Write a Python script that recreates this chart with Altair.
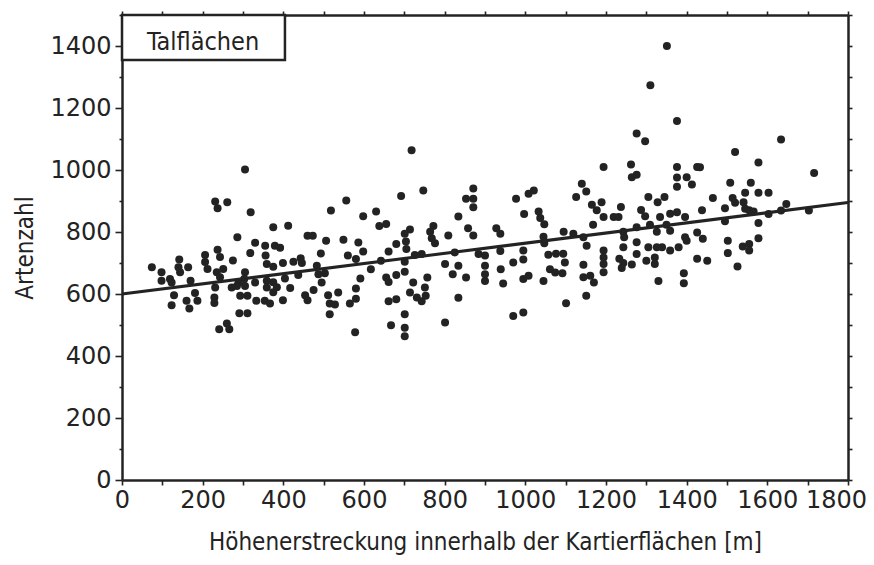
import altair as alt
import pandas as pd

# Scatter points
x_vals = [
    74, 98, 98, 119, 123, 123, 129, 142, 140, 144, 164, 170, 160, 167, 181, 187, 206, 206, 212, 231,
    237, 261, 237, 243, 235, 251, 231, 229, 229, 243, 241, 260, 266, 275, 272, 286, 305, 319, 318, 330,
    355, 356, 359, 305, 303, 289, 285, 305, 330, 293, 311, 333, 354, 291, 311, 359, 359,
    718, 692, 556, 518, 598, 630, 638, 655, 375, 412, 379, 392, 460, 473, 506, 549, 586, 493, 399, 425,
    443, 446, 437, 404, 375, 375, 375, 367, 384, 417, 399, 454, 460, 475, 483, 487, 495, 503, 511, 515,
    528, 536, 515, 565, 580, 580, 591, 560, 580, 598, 617, 642, 661, 680, 655, 661, 680, 701, 714, 704,
    705, 726, 701, 701, 722, 714, 731, 661, 680, 701, 667, 701, 701, 578,
    747, 871, 853, 871, 871, 834, 772, 764, 768, 776, 809, 858, 871, 743, 825, 801, 834, 820, 853, 757,
    751, 753, 743, 834, 801, 884, 900, 900, 900, 900, 928, 938, 938, 939, 945, 970, 977, 997, 1008, 1021,
    995, 995, 995, 1008, 1033, 1037, 1047, 1045, 1047, 1045, 1057, 1076, 1094, 1098, 1061, 1074, 1092, 1095, 1101, 970, 995,
    1351, 1310, 1376, 1276, 1297, 1194, 1262, 1264, 1276, 1376, 1376, 1400, 1426, 1376, 1413, 1465, 1140, 1151, 1126, 1189,
    1165, 1177, 1237, 1305, 1328, 1345, 1287, 1297, 1194, 1219, 1231, 1334, 1359, 1376, 1396, 1438, 1168, 1309, 1350, 1243,
    1276, 1326, 1359, 1119, 1144, 1152, 1245, 1243, 1276, 1305, 1326, 1339, 1359, 1380, 1396, 1400, 1426, 1440, 1194, 1194,
    1194, 1194, 1233, 1243, 1239, 1264, 1276, 1300, 1321, 1321, 1426, 1451, 1144, 1144, 1161, 1170, 1151, 1330, 1393, 1393,
    1634, 1520, 1578, 1716, 1433, 1508, 1559, 1545, 1578, 1603, 1514, 1520, 1541, 1495, 1545, 1555, 1566, 1603, 1634, 1647,
    1703, 1495, 1578, 1578, 1502, 1539, 1555, 1555, 1502, 1526,
]
y_vals = [
    686, 670, 643, 648, 637, 564, 596, 711, 686, 670, 686, 643, 578, 553, 603, 578, 726, 703, 681, 898,
    877, 896, 743, 719, 670, 681, 621, 589, 571, 654, 486, 505, 486, 708, 621, 783, 1002, 864, 732, 765,
    756, 724, 697, 670, 648, 637, 626, 626, 637, 594, 594, 578, 578, 538, 538, 643, 621,
    1064, 916, 902, 869, 851, 866, 819, 826, 815, 820, 756, 749, 788, 788, 772, 775, 766, 731, 700, 704,
    715, 700, 661, 650, 688, 638, 606, 569, 622, 619, 580, 596, 580, 613, 691, 664, 637, 667, 596, 569,
    566, 605, 535, 569, 585, 618, 650, 724, 713, 737, 680, 707, 737, 761, 653, 639, 661, 794, 808, 769,
    745, 726, 704, 672, 637, 605, 589, 577, 583, 535, 499, 491, 464, 477,
    934, 940, 907, 907, 880, 850, 819, 801, 780, 764, 789, 812, 789, 729, 734, 697, 691, 664, 653, 653,
    621, 594, 577, 588, 508, 729, 724, 691, 664, 642, 812, 794, 739, 680, 634, 702, 907, 858, 923, 934,
    740, 711, 648, 659, 866, 845, 825, 785, 764, 642, 727, 730, 730, 702, 680, 669, 667, 801, 570, 529, 540,
    1400, 1273, 1158, 1118, 1093, 1010, 1018, 977, 985, 1010, 976, 977, 1010, 946, 953, 910, 956, 931, 913, 896,
    888, 870, 881, 913, 896, 913, 871, 851, 848, 848, 848, 848, 859, 864, 848, 870, 823, 823, 823, 801,
    815, 801, 804, 794, 783, 756, 783, 751, 767, 751, 751, 751, 740, 751, 783, 772, 798, 778, 740, 718,
    697, 670, 714, 700, 684, 695, 729, 707, 718, 697, 714, 707, 694, 654, 659, 637, 594, 642, 667, 635,
    1098, 1058, 1024, 990, 1009, 959, 959, 927, 927, 927, 910, 894, 896, 877, 875, 870, 866, 858, 869, 890,
    869, 835, 829, 780, 772, 753, 761, 740, 732, 689,
]

# Regression line end points
trend_x = [0, 1800]
trend_y = [600, 895]

# Label box
box_label = ["Talflächen"]
box_x = [0]
box_x2 = [404]
box_y = [1355]
box_y2 = [1500]
label_x = [201]
label_y = [1413]

x_ticks = list(range(0, 1801, 100))
y_ticks = list(range(0, 1501, 100))

INK = "#232323"
TICK_FONT = "DejaVu Sans"
TITLE_FONT = "DejaVu Sans Condensed"

pts = pd.DataFrame({"x": x_vals, "y": y_vals})
trend = pd.DataFrame({"x": trend_x, "y": trend_y})
box = pd.DataFrame({"x": box_x, "x2": box_x2, "y": box_y, "y2": box_y2})
lab = pd.DataFrame({"x": label_x, "y": label_y, "t": box_label})

xscale = alt.Scale(domain=[0, 1800], nice=False, zero=False)
yscale = alt.Scale(domain=[0, 1500], nice=False, zero=False)

common_axis = dict(
    grid=False, domainColor=INK, domainWidth=2.5, tickColor=INK, tickWidth=1.6,
    labelFont=TICK_FONT, labelFontSize=24, labelColor=INK,
    titleFont=TITLE_FONT, titleFontSize=24, titleFontWeight="normal", titleColor=INK,
)

x_axis = alt.Axis(
    values=x_ticks, format="d",
    labelExpr="datum.value % 200 === 0 ? datum.label : ''",
    labelOffset={"condition": {"test": "datum.value === 1800", "value": -12}, "value": 0},
    title="Höhenerstreckung innerhalb der Kartierflächen [m]",
    tickSize=5, labelPadding=3, titlePadding=18, labelFlush=False, labelOverlap=False,
    **common_axis,
)
y_axis = alt.Axis(
    values=y_ticks, format="d",
    labelExpr="datum.value % 200 === 0 ? datum.label : ''",
    title="Artenzahl",
    tickSize={"condition": {"test": "datum.value % 200 === 0", "value": 7}, "value": 3},
    labelPadding=4, titlePadding=12, labelFlush=False, labelOverlap=False,
    **common_axis,
)

x_top = alt.Axis(values=x_ticks, orient="top", labels=False, title=None, tickSize=4, **common_axis)
y_right = alt.Axis(values=y_ticks, orient="right", labels=False, title=None, tickSize=4, **common_axis)

points = alt.Chart(pts).mark_circle(size=64, color=INK, opacity=1).encode(
    x=alt.X("x:Q", scale=xscale, axis=x_axis),
    y=alt.Y("y:Q", scale=yscale, axis=y_axis),
)

line = alt.Chart(trend).mark_line(color=INK, strokeWidth=3).encode(
    x=alt.X("x:Q", scale=xscale, axis=x_top),
    y=alt.Y("y:Q", scale=yscale, axis=y_right),
)

rect = alt.Chart(box).mark_rect(fill="white", stroke=INK, strokeWidth=2.5).encode(
    x=alt.X("x:Q", scale=xscale, axis=None),
    x2="x2:Q",
    y=alt.Y("y:Q", scale=yscale, axis=None),
    y2="y2:Q",
)

text = alt.Chart(lab).mark_text(font=TITLE_FONT, fontSize=25, color=INK, align="center", baseline="middle").encode(
    x=alt.X("x:Q", scale=xscale, axis=None),
    y=alt.Y("y:Q", scale=yscale, axis=None),
    text="t:N",
)

chart = alt.layer(points, line, rect, text).resolve_scale(
    x="independent", y="independent"
).resolve_axis(
    x="independent", y="independent"
).properties(
    width=726, height=465,
    autosize=alt.AutoSizeParams(type="none"),
    padding={"left": 114, "top": 7, "right": 18, "bottom": 77},
    background="white",
).configure_view(stroke=None)

chart.save("out.html", embed_options={"renderer": "svg", "actions": False})
